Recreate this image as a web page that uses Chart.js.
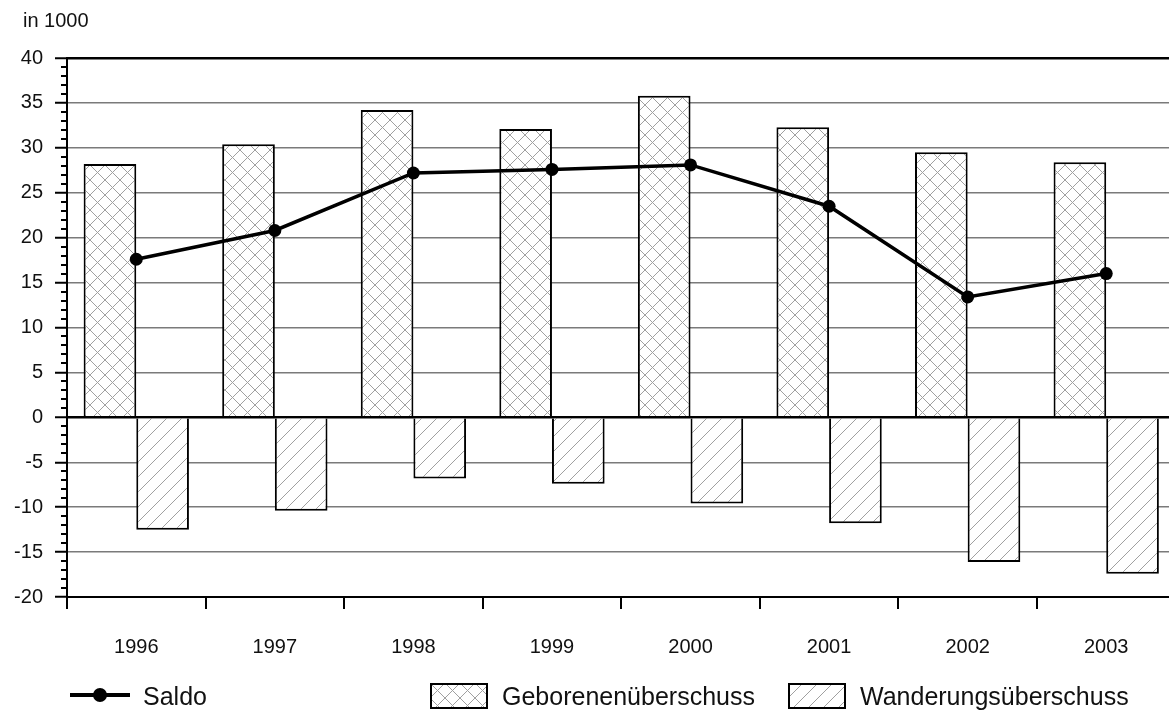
<!DOCTYPE html>
<html><head><meta charset="utf-8">
<script src="https://cdn.jsdelivr.net/npm/chart.js@4"></script>
<style>
html,body{margin:0;padding:0;background:#fff;overflow:hidden;}
#wrap{position:relative;width:1169px;height:711px;overflow:hidden;background:#fff;}
#c{position:absolute;left:0;top:0;}
.unit{position:absolute;left:23px;top:8px;font:20px "Liberation Sans",Arial,sans-serif;color:#111;line-height:24px;}
.legtxt{position:absolute;font:25px "Liberation Sans",Arial,sans-serif;color:#111;line-height:28px;white-space:nowrap;}
.legline{position:absolute;background:#000;}
.legdot{position:absolute;background:#000;border-radius:50%;}
.swatch{position:absolute;}
</style></head><body>
<div id="wrap">
<canvas id="c" width="1182" height="711" style="width:1182px;height:711px"></canvas>
<div class="unit" id="unit"></div>
<div class="legline" style="left:70px;top:693px;width:60px;height:4px"></div>
<div class="legdot" style="left:93px;top:688px;width:14px;height:14px"></div>
<div class="legtxt" id="l0" style="left:143px;top:682px"></div>
<canvas class="swatch" id="sw1" width="58" height="26" style="left:430px;top:683px"></canvas>
<div class="legtxt" id="l1" style="left:502px;top:682px"></div>
<canvas class="swatch" id="sw2" width="58" height="26" style="left:788px;top:683px"></canvas>
<div class="legtxt" id="l2" style="left:860px;top:682px"></div>
</div>
<script>
const unitLabel = 'in 1000';
const categories = ['1996','1997','1998','1999','2000','2001','2002','2003'];
const seriesNames = ['Saldo','Geborenenüberschuss','Wanderungsüberschuss'];
const geborenen = [28.2, 30.4, 34.2, 32.1, 35.8, 32.3, 29.5, 28.4];
const wanderung = [-12.5, -10.4, -6.8, -7.4, -9.6, -11.8, -16.1, -17.4];
const saldo = [17.6, 20.8, 27.2, 27.6, 28.1, 23.5, 13.4, 16.0];
const yMin = -20, yMax = 40, yStep = 5;

function makePattern(ctx, kind){
  const t = document.createElement('canvas');
  const n = 15;
  t.width = n; t.height = n;
  const c = t.getContext('2d');
  c.fillStyle = '#fff'; c.fillRect(0,0,n,n);
  c.strokeStyle = '#a0a0a0'; c.lineWidth = 1;
  c.beginPath();
  if (kind === 'cross') {
    c.moveTo(0,0); c.lineTo(n,n);
    c.moveTo(0,n); c.lineTo(n,0);
  } else {
    c.moveTo(-1,n+1); c.lineTo(n+1,-1);
    c.moveTo(-1,1); c.lineTo(1,-1);
    c.moveTo(n-1,n+1); c.lineTo(n+1,n-1);
  }
  c.stroke();
  return ctx.createPattern(t,'repeat');
}

document.getElementById('unit').textContent = unitLabel;
document.getElementById('l0').textContent = seriesNames[0];
document.getElementById('l1').textContent = seriesNames[1];
document.getElementById('l2').textContent = seriesNames[2];

function drawSwatch(id, kind){
  const cv = document.getElementById(id);
  const c = cv.getContext('2d');
  c.fillStyle = makePattern(c, kind);
  c.fillRect(0,0,cv.width,cv.height);
  c.strokeStyle = '#000'; c.lineWidth = 2;
  c.strokeRect(1,1,cv.width-2,cv.height-2);
}
drawSwatch('sw1','cross');
drawSwatch('sw2','hatch');

const cctx = document.getElementById('c').getContext('2d');
const crossPat = makePattern(cctx,'cross');
const hatchPat = makePattern(cctx,'hatch');

const minorTicks = {
  id: 'minorTicks',
  afterDraw(chart){
    const s = chart.scales.y;
    const ctx = chart.ctx;
    ctx.save();
    ctx.strokeStyle = '#000';
    ctx.lineWidth = 2;
    for (let v = yMin; v <= yMax; v++) {
      if (v % yStep === 0) continue;
      const y = Math.round(s.getPixelForValue(v));
      ctx.beginPath();
      ctx.moveTo(s.right - 6, y);
      ctx.lineTo(s.right, y);
      ctx.stroke();
    }
    ctx.restore();
  }
};

const FONT = '"Liberation Sans", Arial, sans-serif';

new Chart(cctx, {
  data: {
    labels: categories,
    datasets: [
      {
        type: 'line', label: seriesNames[0], data: saldo, order: 0,
        borderColor: '#000', borderWidth: 3.5, tension: 0,
        pointRadius: 6.5, pointBackgroundColor: '#000', pointBorderWidth: 0,
        pointHoverRadius: 6.5
      },
      {
        type: 'bar', label: seriesNames[1], data: geborenen, order: 1,
        backgroundColor: crossPat, borderColor: '#000', borderWidth: 2,
        borderSkipped: 'start', barPercentage: 1.0, categoryPercentage: 0.76
      },
      {
        type: 'bar', label: seriesNames[2], data: wanderung, order: 1,
        backgroundColor: hatchPat, borderColor: '#000', borderWidth: 2,
        borderSkipped: 'start', barPercentage: 1.0, categoryPercentage: 0.76
      }
    ]
  },
  options: {
    responsive: false,
    animation: false,
    devicePixelRatio: 1,
    layout: { padding: { left: 0, right: 0, top: 58, bottom: 54 } },
    plugins: { legend: { display: false }, tooltip: { enabled: false } },
    scales: {
      x: {
        type: 'category',
        offset: true,
        grid: { display: true, offset: true, drawOnChartArea: false, drawTicks: true,
                tickLength: 12, color: '#000', lineWidth: 2 },
        border: { display: true, color: '#000', width: 2 },
        ticks: { color: '#111', font: { family: FONT, size: 20 }, padding: 26, maxRotation: 0 },
        afterFit(s){ s.height = 60; }
      },
      y: {
        min: yMin, max: yMax,
        ticks: { stepSize: yStep, color: '#111', font: { family: FONT, size: 20 }, padding: 12 },
        grid: {
          color: (c) => (c.tick && (c.tick.value === 0 || c.tick.value === yMax)) ? '#000' : '#7a7a7a',
          lineWidth: (c) => (c.tick && (c.tick.value === 0 || c.tick.value === yMax)) ? 2.5 : 1.5,
          tickColor: '#000', tickWidth: 2, tickLength: 12, drawTicks: true
        },
        border: { display: true, color: '#000', width: 2 },
        afterFit(s){ s.width = 67; }
      }
    }
  },
  plugins: [minorTicks]
});
</script>
</body></html>
